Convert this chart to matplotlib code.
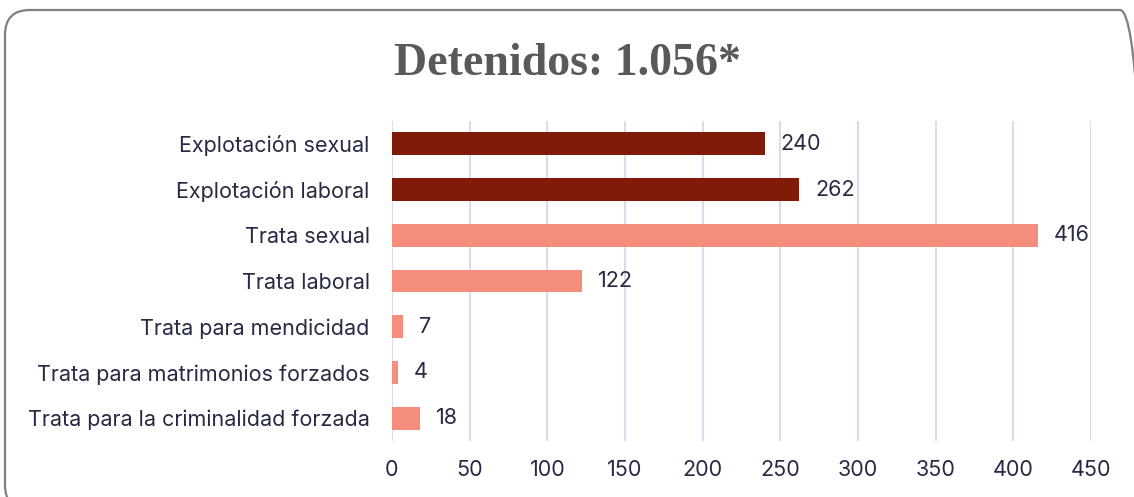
import matplotlib
matplotlib.use("Agg")
import matplotlib.pyplot as plt
from matplotlib.patches import FancyBboxPatch

categories = ["Explotación sexual", "Explotación laboral", "Trata sexual", "Trata laboral",
              "Trata para mendicidad", "Trata para matrimonios forzados",
              "Trata para la criminalidad forzada"]
values = [240, 262, 416, 122, 7, 4, 18]
bar_colors = ["#801B0A", "#801B0A", "#F58D7C", "#F58D7C", "#F58D7C", "#F58D7C", "#F58D7C"]
xticks = [0, 50, 100, 150, 200, 250, 300, 350, 400, 450]
title = "Detenidos: 1.056*"

W, H = 1134, 497
fig = plt.figure(figsize=(W / 100, H / 100), dpi=100)
fig.patch.set_facecolor("white")

# rounded border
border = FancyBboxPatch((5 / W, -13 / H), (1140 / W), (500 / H),
                        boxstyle="round,pad=0,rounding_size=0.022",
                        transform=fig.transFigure, facecolor="none",
                        edgecolor="#7F7F7F", linewidth=1.6, mutation_aspect=W / H)
fig.patches.append(border)

ax = fig.add_axes([392 / W, 1 - 441 / H, (1091 - 392) / W, (441 - 121) / H])
txt = "#262A44"
grid = "#D9DBEE"
font = "Inter"
fs = 15.5

y = list(range(len(categories)))
ax.barh(y, values, height=0.5, color=bar_colors, zorder=3)
ax.set_ylim(len(categories) - 0.5, -0.5)
ax.set_xlim(0, 450)
ax.set_xticks(xticks)
ax.set_xticklabels([str(t) for t in xticks], fontsize=fs, color=txt, family=font)
ax.set_yticks(y)
ax.set_yticklabels(categories, fontsize=fs, color=txt, family=font)
ax.tick_params(axis="both", length=0)
ax.tick_params(axis="y", pad=16)
ax.tick_params(axis="x", pad=14)
for s in ax.spines.values():
    s.set_visible(False)
ax.xaxis.grid(True, color=grid, linewidth=1.5, zorder=0)
ax.set_axisbelow(True)

for yi, v in zip(y, values):
    ax.annotate(str(v), (v, yi), xytext=(16, 0), textcoords="offset pixels",
                va="center", ha="left", fontsize=fs, color=txt, family=font)

fig.text(0.5, 1 - 64 / H, title, ha="center", va="center", fontsize=33,
         color="#595959", family="Liberation Serif", fontweight="bold")

fig.savefig("out.png", dpi=100)
